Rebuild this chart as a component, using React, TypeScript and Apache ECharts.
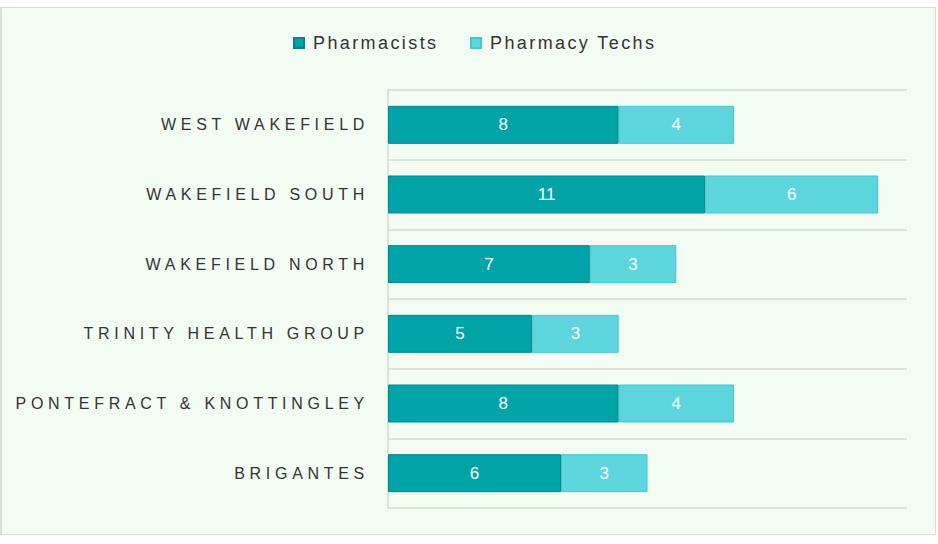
import React, { useEffect, useRef } from "react";
import * as echarts from "echarts";

const categories = [
  "WEST WAKEFIELD",
  "WAKEFIELD SOUTH",
  "WAKEFIELD NORTH",
  "TRINITY HEALTH GROUP",
  "PONTEFRACT & KNOTTINGLEY",
  "BRIGANTES",
];
const pharmacists = [8, 11, 7, 5, 8, 6];
const pharmacyTechs = [4, 6, 3, 3, 4, 3];
const seriesNames = ["Pharmacists", "Pharmacy Techs"];

export default function App() {
  const ref = useRef<HTMLDivElement>(null);

  useEffect(() => {
    if (!ref.current) return;
    const chart = echarts.init(ref.current, null, { renderer: "svg" });
    const font = "'Liberation Sans', Arial, sans-serif";
    chart.setOption({
      animation: false,
      backgroundColor: "transparent",
      legend: {
        left: 287,
        top: 21,
        itemWidth: 10,
        itemHeight: 10,
        itemGap: 58,
        icon: "rect",
        textStyle: {
          fontFamily: font,
          fontSize: 18,
          color: "#333",
          padding: [0, 0, 0, 4],
        },
        data: seriesNames,
      },
      grid: { left: 387, right: 30, top: 82, bottom: 28 },
      xAxis: {
        type: "value",
        min: 0,
        max: 18,
        show: false,
        splitLine: { show: false },
      },
      yAxis: {
        type: "category",
        inverse: true,
        data: categories,
        axisLine: { show: true, lineStyle: { color: "#d3d9d3", width: 1.5 } },
        axisTick: { show: false },
        splitLine: { show: true, lineStyle: { color: "#dde2dd", width: 2 } },
        axisLabel: {
          fontFamily: font,
          fontSize: 16,
          color: "#333",
          margin: 19,
        },
      },
      series: [
        {
          name: seriesNames[0],
          type: "bar",
          stack: "total",
          barWidth: 38,
          data: pharmacists,
          itemStyle: { color: "#00a4a8", borderColor: "#00868b", borderWidth: 1 },
          label: {
            show: true,
            position: "inside",
            color: "#fff",
            fontFamily: font,
            fontSize: 17,
          },
        },
        {
          name: seriesNames[1],
          type: "bar",
          stack: "total",
          barWidth: 38,
          data: pharmacyTechs,
          itemStyle: { color: "#5cd6dc", borderColor: "#47c6cd", borderWidth: 1 },
          label: {
            show: true,
            position: "inside",
            color: "#fff",
            fontFamily: font,
            fontSize: 17,
          },
        },
      ],
    });
    return () => chart.dispose();
  }, []);

  return (
    <div>
      <style>{`
        body { margin: 0; background: #fff; }
        .chartbox svg text[text-anchor="end"] { letter-spacing: 4.7px; }
        .chartbox svg text[text-anchor="start"] { letter-spacing: 2.4px; }
      `}</style>
      <div
        style={{
          position: "absolute",
          left: 0,
          top: 7,
          width: 936,
          height: 528,
          background: "#f3fcf2",
          border: "1px solid #d9ddd8",
          borderLeftWidth: 2,
          boxSizing: "border-box",
        }}
      />
      <div
        ref={ref}
        className="chartbox"
        style={{ position: "absolute", left: 1, top: 8, width: 936, height: 528 }}
      />
    </div>
  );
}
